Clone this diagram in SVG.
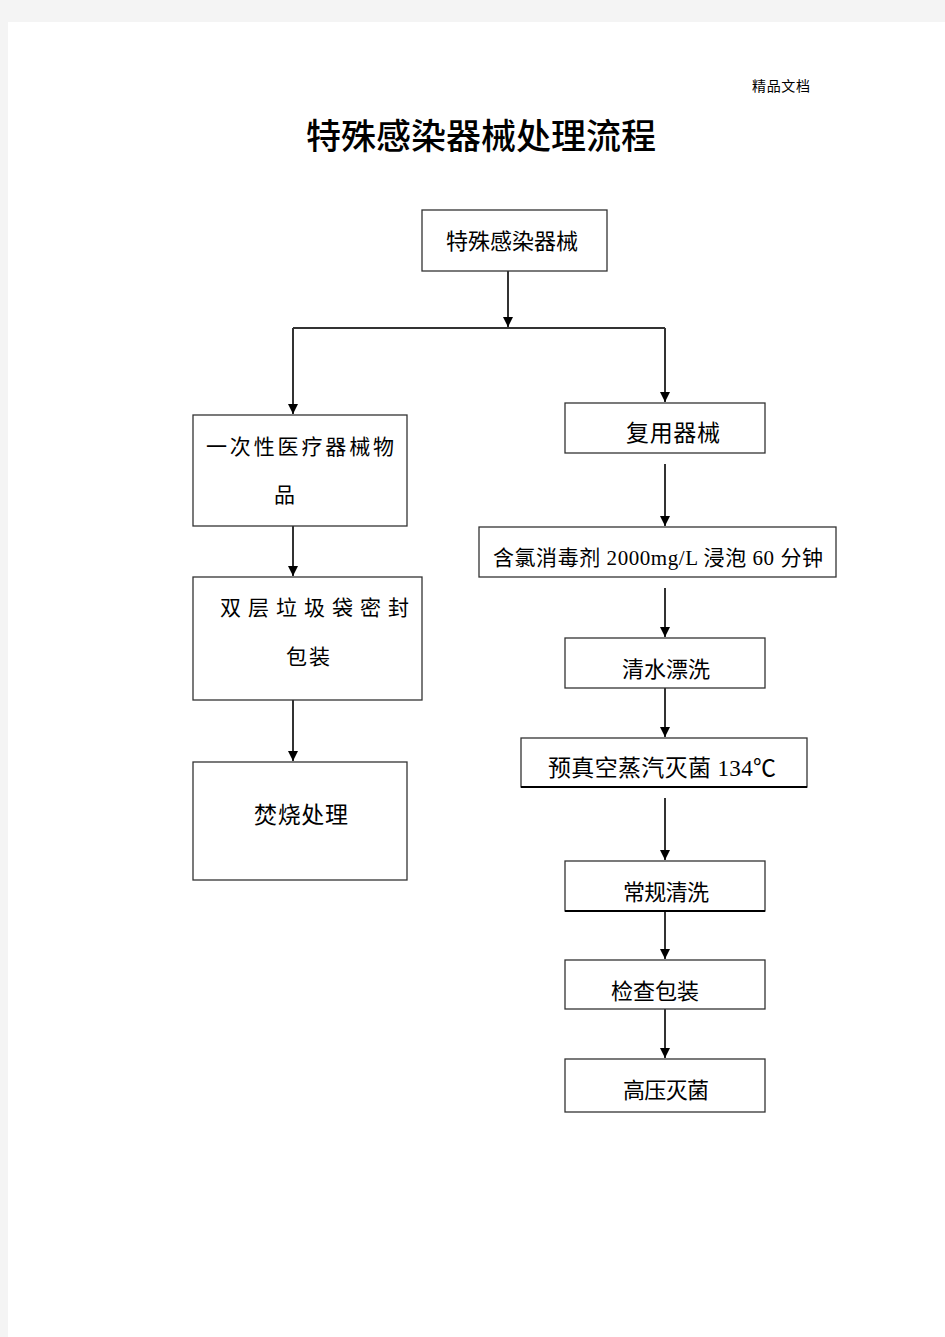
<svg xmlns="http://www.w3.org/2000/svg" width="945" height="1337" viewBox="0 0 945 1337">
<style>
.box{fill:#fff;stroke:#333;stroke-width:1.3}
.t{font-family:"Liberation Serif","Noto Sans CJK SC",serif;fill:#000}
.c{fill:none;stroke:#333;stroke-width:2}
</style>
<defs>
<marker id="ah" viewBox="0 0 10 10" refX="10" refY="5" markerWidth="10" markerHeight="10" markerUnits="userSpaceOnUse" orient="auto">
<path d="M0,0 L10,5 L0,10 z" fill="#000"/>
</marker>
</defs>
<rect x="0" y="0" width="945" height="1337" fill="#f4f4f4"/>
<rect x="8" y="22" width="937" height="1315" fill="#fff"/>
<text class="t" x="752" y="91" font-size="14" textLength="58" font-family="Noto Sans CJK SC,sans-serif">精品文档</text>
<text class="t" x="306" y="149" font-size="35" textLength="350" font-weight="500">特殊感染器械处理流程</text>

<g id="connectors">
<path class="c" d="M508,271 V327" marker-end="url(#ah)"/>
<path class="c" d="M293,328 H665"/>
<path class="c" d="M293,328 V414" marker-end="url(#ah)"/>
<path class="c" d="M665,328 V402" marker-end="url(#ah)"/>
<path class="c" d="M293,526 V576" marker-end="url(#ah)"/>
<path class="c" d="M293,700 V761" marker-end="url(#ah)"/>
<path class="c" d="M665,464 V526" marker-end="url(#ah)"/>
<path class="c" d="M665,588 V637" marker-end="url(#ah)"/>
<path class="c" d="M665,688 V737" marker-end="url(#ah)"/>
<path class="c" d="M665,798 V860" marker-end="url(#ah)"/>
<path class="c" d="M665,911 V959" marker-end="url(#ah)"/>
<path class="c" d="M665,1009 V1058" marker-end="url(#ah)"/>
</g>

<g id="n1"><rect class="box" x="422" y="210" width="185" height="61"/>
<text class="t" x="446" y="249" font-size="22" textLength="132">特殊感染器械</text></g>

<g id="n2"><rect class="box" x="193" y="415" width="214" height="111"/>
<text class="t" x="206" y="454" font-size="21" textLength="188">一次性医疗器械物</text>
<text class="t" x="274" y="502" font-size="21">品</text></g>

<g id="n3"><rect class="box" x="193" y="577" width="229" height="123"/>
<text class="t" x="220" y="615" font-size="21" textLength="189">双层垃圾袋密封</text>
<text class="t" x="286" y="664" font-size="21" textLength="44">包装</text></g>

<g id="n4"><rect class="box" x="193" y="762" width="214" height="118"/>
<text class="t" x="254" y="823" font-size="23" textLength="94">焚烧处理</text></g>

<g id="n5"><rect class="box" x="565" y="403" width="200" height="50"/>
<text class="t" x="626" y="441" font-size="23" textLength="94">复用器械</text></g>

<g id="n6"><rect class="box" x="479" y="527" width="357" height="50"/>
<text class="t" x="493" y="565" font-size="21" textLength="330">含氯消毒剂 2000mg/L 浸泡 60 分钟</text></g>

<g id="n7"><rect class="box" x="565" y="638" width="200" height="50"/>
<text class="t" x="622" y="677" font-size="22" textLength="88">清水漂洗</text></g>

<g id="n8"><rect class="box" x="521" y="738" width="286" height="49"/>
<path d="M521,787 H807" stroke="#000" stroke-width="2"/>
<text class="t" x="548" y="776" font-size="23" textLength="228">预真空蒸汽灭菌 134℃</text></g>

<g id="n9"><rect class="box" x="565" y="861" width="200" height="50"/>
<path d="M565,911 H765" stroke="#000" stroke-width="2"/>
<text class="t" x="623" y="900" font-size="22" textLength="86">常规清洗</text></g>

<g id="n10"><rect class="box" x="565" y="960" width="200" height="49"/>
<text class="t" x="611" y="999" font-size="22" textLength="88">检查包装</text></g>

<g id="n11"><rect class="box" x="565" y="1059" width="200" height="53"/>
<text class="t" x="623" y="1098" font-size="22" textLength="86">高压灭菌</text></g>
</svg>
